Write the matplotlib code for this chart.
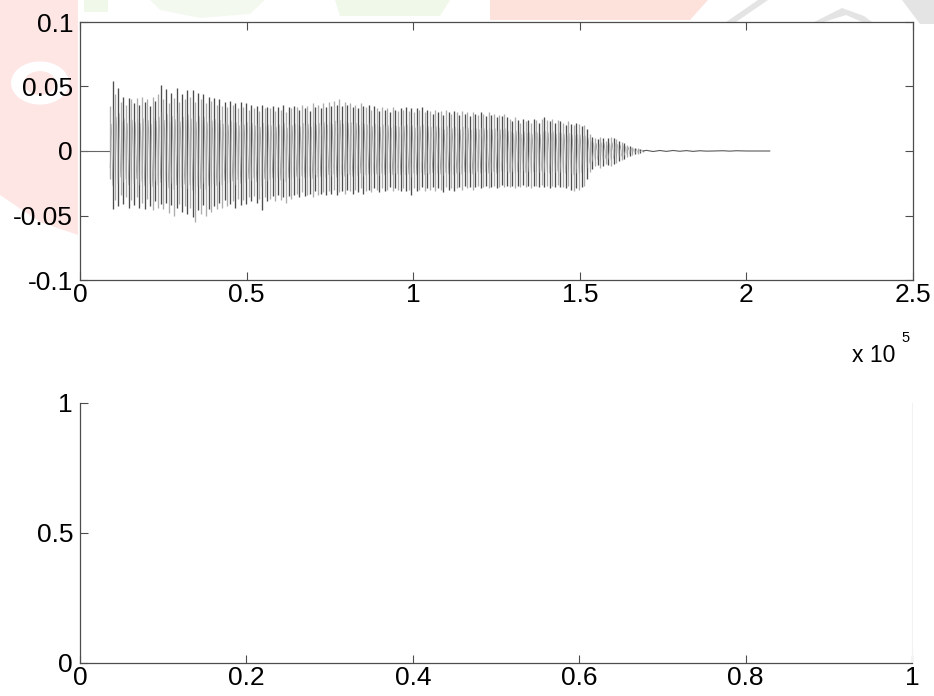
import numpy as np
import matplotlib
matplotlib.use("Agg")
import matplotlib.pyplot as plt
from matplotlib.patches import Polygon, Circle

plt.rcParams["font.family"] = ["Liberation Sans", "DejaVu Sans"]

# signal peaks, one stroke every 800 samples from 9000 on
# values in thousandths
stroke_start = 9000
stroke_step = 800
peak_hi_milli = [
	35, 54, 44, 49, 38, 42, 36, 41, 40, 37,
	41, 36, 42, 38, 40, 35, 42, 39, 44, 51,
	40, 48, 37, 45, 41, 49, 38, 44, 40, 47,
	42, 47, 38, 45, 40, 44, 37, 42, 39, 41,
	36, 40, 35, 38, 34, 39, 36, 37, 33, 38,
	34, 37, 32, 36, 33, 35, 31, 36, 33, 34,
	33, 35, 31, 34, 32, 36, 30, 34, 33, 35,
	34, 32, 36, 33, 35, 31, 37, 34, 36, 33,
	37, 34, 38, 35, 39, 36, 40, 35, 38, 36,
	37, 34, 36, 33, 37, 35, 34, 36, 32, 35,
	33, 31, 34, 32, 33, 30, 34, 32, 31, 33,
	32, 34, 31, 33, 30, 33, 32, 34, 30, 32,
	31, 29, 32, 30, 31, 28, 32, 30, 29, 31,
	30, 28, 31, 29, 30, 27, 30, 29, 28, 30,
	29, 27, 30, 28, 29, 26, 28, 27, 29, 26,
	25, 23, 26, 24, 22, 25, 23, 24, 22, 25,
	24, 22, 25, 26, 24, 23, 25, 22, 24, 23,
	22, 20, 23, 21, 20, 22, 21, 19, 20, 17,
	13, 11, 10, 9, 11, 10, 8, 10, 11, 10,
	9, 8, 7, 6, 5, 4, 3, 2.5, 2, 1.5,
	1,
]
peak_lo_milli = [
	-22, -45, -38, -43, -34, -41, -36, -44, -38, -42,
	-36, -44, -40, -45, -37, -43, -46, -39, -44, -41,
	-45, -40, -48, -42, -50, -44, -41, -47, -43, -49,
	-44, -51, -55, -46, -49, -42, -50, -45, -47, -43,
	-45, -40, -44, -38, -43, -41, -39, -44, -37, -42,
	-38, -41, -36, -39, -35, -40, -37, -46, -36, -39,
	-37, -35, -39, -34, -38, -36, -40, -35, -37, -34,
	-33, -36, -32, -35, -34, -33, -36, -31, -34, -33,
	-32, -34, -31, -33, -30, -34, -32, -31, -33, -30,
	-31, -33, -30, -32, -29, -33, -31, -30, -32, -29,
	-30, -32, -29, -31, -30, -28, -31, -29, -30, -31,
	-29, -31, -30, -34, -29, -31, -30, -28, -31, -29,
	-30, -28, -31, -29, -30, -32, -28, -30, -29, -31,
	-29, -28, -30, -27, -29, -28, -30, -28, -27, -29,
	-28, -27, -29, -28, -27, -29, -28, -26, -28, -27,
	-28, -27, -29, -27, -28, -26, -28, -27, -29, -27,
	-27, -28, -26, -28, -27, -29, -27, -28, -26, -28,
	-28, -29, -27, -30, -31, -29, -30, -28, -27, -22,
	-16, -14, -12, -11, -13, -12, -10, -11, -12, -10,
	-9, -8, -7, -6, -5, -4, -3, -2.5, -2, -1.5,
	-1,
]

# silent lead-in and decaying tail (sample index, value in thousandths)
lead_x = [0, 9000]
lead_y = [0, 0]
tail_x = [169000, 170000, 172000, 174000, 176000, 178000, 180000, 182000, 184000,
	186000, 188000, 190000, 193000, 195000, 197000, 200000, 207000]
tail_y = [0, 0.5, -0.4, 0.4, -0.3, 0.4, -0.2, 0.3, -0.3, 0.2, -0.1, 0, 0.2, -0.1, 0.2, 0, 0]

top_xticks = [0, 0.5e5, 1e5, 1.5e5, 2e5, 2.5e5]
top_xticklabels = ["0", "0.5", "1", "1.5", "2", "2.5"]
top_yticks = [-0.1, -0.05, 0, 0.05, 0.1]
top_yticklabels = ["-0.1", "-0.05", "0", "0.05", "0.1"]
bot_xticks = [0, 0.2, 0.4, 0.6, 0.8, 1]
bot_xticklabels = ["0", "0.2", "0.4", "0.6", "0.8", "1"]
bot_yticks = [0, 0.5, 1]
bot_yticklabels = ["0", "0.5", "1"]

W, H = 934, 696
fig = plt.figure(figsize=(W / 100, H / 100), dpi=100)
fig.patch.set_facecolor("white")


def px(x, y):
	# pixel coords (top-left origin) -> figure fraction
	return (x / W, 1 - y / H)


# faint watermark behind the plots
wm = [
	([(0, 0), (78, 0), (78, 235), (40, 222), (0, 195)], "#fde6e4"),
	([(84, 0), (108, 0), (108, 12), (84, 12)], "#f0f8ea"),
	([(150, 0), (265, 0), (250, 14), (200, 18), (160, 10)], "#f4f9ef"),
	([(335, 0), (450, 0), (440, 16), (340, 16)], "#f0f8ea"),
	([(490, 0), (708, 0), (690, 20), (490, 20)], "#fde2dc"),
	([(726, 22), (758, 0), (768, 0), (736, 22)], "#e4e4e4"),
	([(814, 22), (842, 8), (864, 16), (872, 22), (862, 22), (846, 15), (824, 22)], "#e4e4e4"),
	([(902, 0), (934, 0), (934, 24), (920, 24)], "#e4e4e4"),
]
for pts, col in wm:
	fig.patches.append(Polygon([px(*p) for p in pts], closed=True, transform=fig.transFigure,
		facecolor=col, edgecolor="none", zorder=-10))
fig.patches.append(Circle(px(40, 83), 29 / W, transform=fig.transFigure,
	facecolor="white", edgecolor="none", zorder=-9))
fig.patches.append(Circle(px(40, 83), 16 / W, transform=fig.transFigure,
	facecolor="#fde6e4", edgecolor="none", zorder=-8))

spine_col = "0.3"
lab_size = 19

# top: waveform
ax1 = fig.add_axes([80 / W, 1 - 280 / H, 833 / W, 258 / H])
hi = np.array(peak_hi_milli) / 1000.0
lo = np.array(peak_lo_milli) / 1000.0
sx = stroke_start + stroke_step * np.arange(len(hi))
cols = ["0.3" if i % 2 else "0.68" for i in range(len(hi))]
ax1.plot(lead_x, lead_y, color="0.4", lw=0.8)
ax1.vlines(sx, lo, hi, colors=cols, lw=0.95)
zx = np.repeat(sx, 2) + np.tile([0, stroke_step / 2], len(sx))
zy = np.column_stack([lo, hi]).ravel()
ax1.plot(zx, zy * 0.6, color="0.6", lw=0.3)
ax1.plot(tail_x, np.array(tail_y) / 1000.0, color="0.35", lw=0.8)
ax1.set_xlim(0, 2.5e5)
ax1.set_ylim(-0.1, 0.1)
ax1.set_xticks(top_xticks)
ax1.set_xticklabels(top_xticklabels)
ax1.set_yticks(top_yticks)
ax1.set_yticklabels(top_yticklabels)
ax1.tick_params(direction="in", length=6, width=0.8, color=spine_col, labelsize=lab_size,
	top=True, right=True)
ax1.tick_params(axis="x", pad=2)
ax1.tick_params(axis="y", pad=5)
for s in ax1.spines.values():
	s.set_color(spine_col)
	s.set_linewidth(0.9)

fig.text(852 / W, 1 - 362 / H, "x 10", fontsize=16.5, ha="left", va="baseline")
fig.text(901 / W, 1 - 342 / H, "5", fontsize=10.5, ha="left", va="baseline")

# bottom: empty axes
ax2 = fig.add_axes([80 / W, 1 - 663 / H, 832 / W, 260 / H])
ax2.set_xlim(0, 1)
ax2.set_ylim(0, 1)
ax2.set_xticks(bot_xticks)
ax2.set_xticklabels(bot_xticklabels)
ax2.set_yticks(bot_yticks)
ax2.set_yticklabels(bot_yticklabels)
ax2.tick_params(direction="in", length=6, width=0.8, color=spine_col, labelsize=lab_size)
ax2.tick_params(axis="x", pad=2)
ax2.tick_params(axis="y", pad=5)
ax2.spines["top"].set_visible(False)
ax2.spines["right"].set_color("0.95")
for k in ("left", "bottom"):
	ax2.spines[k].set_color(spine_col)
	ax2.spines[k].set_linewidth(0.9)

fig.savefig("out.png", dpi=100)
